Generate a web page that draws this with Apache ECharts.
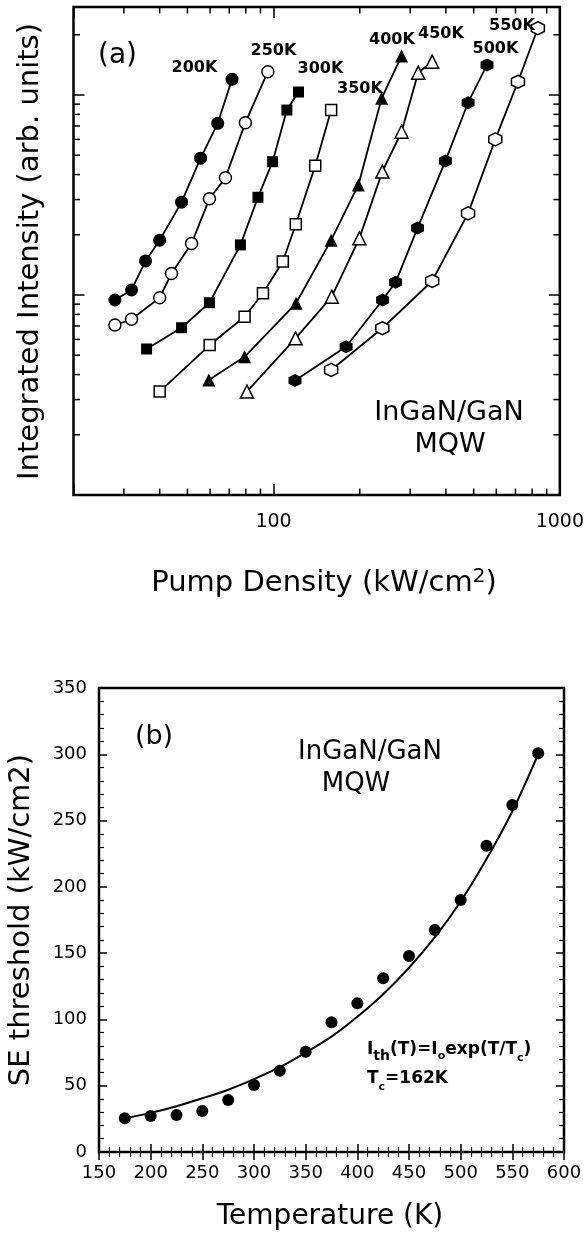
<!DOCTYPE html>
<html><head><meta charset="utf-8">
<script src="https://cdn.jsdelivr.net/npm/echarts@6/dist/echarts.min.js"></script>
<style>html,body{margin:0;padding:0;background:#fff}#c{width:587px;height:1234px}</style>
</head><body><div id="c"></div>
<script>
// ---------- Panel (a) data: pump density (kW/cm2) vs integrated intensity (arb. units) ----------
const tempLabels = ['200K','250K','300K','350K','400K','450K','500K','550K'];
const pump200 = [27.9,31.9,35.7,40.0,47.7,55.6,63.8,71.6];
const int200  = [9.44,10.6,14.8,18.8,29.1,48.3,72.2,120];
const pump250 = [27.9,31.9,40.0,44.0,51.7,59.7,67.9,79.7,95.5];
const int250  = [7.08,7.56,9.69,12.8,18.1,30.3,38.6,72.7,130.8];
const pump300 = [36.0,47.7,59.7,76.6,88.2,99.2,111.3,122.2];
const int300  = [5.37,6.86,9.15,17.8,30.8,46.4,84.1,103.5];
const pump350 = [40.0,59.8,79.2,91.8,107.7,119.6,139.8,158.9];
const int350  = [3.29,5.62,7.79,10.2,14.7,22.6,44.3,84.1];
const pump400 = [59.4,79.2,119.8,158.9,197.8,238.5,280];
const int400  = [3.76,4.91,9.09,18.8,35.5,96.3,156.7];
const pump450 = [80.7,119.3,159.7,199.4,239.8,280,320.1,358.1];
const int450  = [3.29,6.07,9.81,19.2,41.4,65.5,129.3,146.7];
const pump500 = [118.8,179.2,240.4,266.8,318.3,398.4,478,556.7];
const int500  = [3.74,5.51,9.44,11.57,21.6,46.8,91.5,141.3];
const pump550 = [158.9,239.8,358.1,478,595,714,838];
const int550  = [4.22,6.82,11.75,25.6,60.0,116.5,215.6];
const xTickLabelsA = [100, 1000];
const xMinorTicksA = [30,40,50,60,70,80,90,200,300,400,500,600,700,800,900];
const yMinorTicksA = [2,3,4,5,6,7,8,9,20,30,40,50,60,70,80,90,200];

// ---------- Panel (b) data: SE threshold vs temperature ----------
const tempK      = [175,200,225,250,275,300,325,350,375,400,425,450,475,500,525,550,575];
const threshold  = [25.4,27.2,27.9,30.9,39.2,50.5,61.3,75.6,97.8,112.2,131.0,147.8,167.5,190.1,231.0,261.8,300.7];
const fitT       = [175,200,225,250,275,300,325,350,375,400,425,450,475,500,525,550,575];
const fitV       = [25.5,29.5,34.5,40.5,47,55,64,75,87,102,119,139,162,189,221,257,300];

const FF = 'DejaVu Sans';
const BLACK = '#000';

const filledSym = {color: BLACK, opacity: 1};
const openSym = {color: '#fff', borderColor: BLACK, borderWidth: 1.5, opacity: 1};
const hexPath = 'path://M0,-1 L0.866,-0.5 L0.866,0.5 L0,1 L-0.866,0.5 L-0.866,-0.5 Z';
const seriesDefs = [
  [pump200, int200, 'circle', 13, filledSym],
  [pump250, int250, 'circle', 12, openSym],
  [pump300, int300, 'rect', 11, filledSym],
  [pump350, int350, 'rect', 11, openSym],
  [pump400, int400, 'triangle', 13, filledSym],
  [pump450, int450, 'triangle', 13, openSym],
  [pump500, int500, hexPath, 13, filledSym],
  [pump550, int550, hexPath, 13, openSym]
];

const seriesA = seriesDefs.map((d, i) => ({
  name: tempLabels[i], type: 'line', xAxisIndex: 0, yAxisIndex: 0,
  data: d[0].map((x, j) => [x, d[1][j]]),
  symbol: d[2], symbolSize: d[3], showAllSymbol: true,
  itemStyle: d[4],
  lineStyle: {color: BLACK, width: 1.8},
  z: 3, silent: true
}));

function minorX(len) {
  return function (params, api) {
    const cs = params.coordSys;
    const p = api.coord([api.value(0), api.value(1)]);
    const st = {stroke: BLACK, lineWidth: 1.5};
    return {type: 'group', children: [
      {type: 'line', shape: {x1: p[0], y1: cs.y + cs.height, x2: p[0], y2: cs.y + cs.height - len}, style: st},
      {type: 'line', shape: {x1: p[0], y1: cs.y, x2: p[0], y2: cs.y + len}, style: st}
    ]};
  };
}
function minorY(len) {
  return function (params, api) {
    const cs = params.coordSys;
    const p = api.coord([api.value(0), api.value(1)]);
    const st = {stroke: BLACK, lineWidth: 1.5};
    return {type: 'group', children: [
      {type: 'line', shape: {x1: cs.x, y1: p[1], x2: cs.x + len, y2: p[1]}, style: st},
      {type: 'line', shape: {x1: cs.x + cs.width, y1: p[1], x2: cs.x + cs.width - len, y2: p[1]}, style: st}
    ]};
  };
}

const logAxisCommon = {
  type: 'log', logBase: 10, splitLine: {show: false}, axisLine: {show: false},
  axisTick: {show: true, inside: true, length: 11, lineStyle: {color: BLACK, width: 1.5}},
  minorTick: {show: false}
};
const valAxisCommon = {
  type: 'value', splitLine: {show: false}, axisLine: {show: false},
  axisTick: {show: true, inside: true, length: 8, lineStyle: {color: BLACK, width: 1.5}},
  minorTick: {show: true, splitNumber: 5, length: 5, lineStyle: {color: BLACK, width: 1.2}}
};

function txt(text, x, y, size, opts) {
  opts = opts || {};
  return {
    type: 'text', x: x, y: y, rotation: opts.rotation || 0, z: 10, silent: true,
    style: {
      text: text, fill: BLACK, fontFamily: FF, fontSize: size,
      fontWeight: opts.bold ? 'bold' : 'normal',
      align: opts.align || 'center', textAlign: opts.align || 'center',
      verticalAlign: 'middle', textVerticalAlign: 'middle'
    }
  };
}

// text made of pieces with sub/superscripts: [text, fontSize, baselineShift, bold]
const measureCtx = document.createElement('canvas').getContext('2d');
function pieceTexts(pieces, x0, baseline, align) {
  const widths = pieces.map(p => {
    measureCtx.font = (p[3] ? 'bold ' : '') + p[1] + 'px "' + FF + '"';
    return measureCtx.measureText(p[0]).width;
  });
  const total = widths.reduce((a, b) => a + b, 0);
  let x = align === 'center' ? x0 - total / 2 : x0;
  return pieces.map((p, i) => {
    const el = txt(p[0], x, baseline + p[2] - 0.346 * p[1], p[1], {bold: p[3], align: 'left'});
    x += widths[i];
    return el;
  });
}

const labelPos = [[194.5,67.5],[273.5,51],[320.5,68.5],[360,88.5],[392,40],[441,33.5],[495.5,49],[512,26]];
let graphics = [];
tempLabels.forEach((t, i) => graphics.push(txt(t, labelPos[i][0], labelPos[i][1], 16, {bold: true})));
graphics.push(txt('(a)', 117.5, 55.5, 28));
graphics.push(txt('InGaN/GaN', 449, 412.5, 27));
graphics.push(txt('MQW', 450, 445, 27));
graphics.push(txt('(b)', 154, 736.5, 27));
graphics.push(txt('InGaN/GaN', 370, 752.5, 26));
graphics.push(txt('MQW', 356, 784, 26));
// fit formula
graphics = graphics.concat(pieceTexts([
  ['I', 17, 0, true], ['th', 14, 6, true], ['(T)=I', 17, 0, true], ['o', 11, 4.5, true],
  ['exp(T/T', 17, 0, true], ['c', 11, 6, true], [')', 17, 0, true]
], 367, 1055.5, 'left'));
graphics = graphics.concat(pieceTexts([
  ['T', 17, 0, true], ['c', 11, 6.5, true], ['=162K', 17, 0, true]
], 367, 1084.5, 'left'));
// axis titles
graphics = graphics.concat(pieceTexts([
  ['Pump Density (kW/cm', 29, 0, false], ['2', 20, -10, false], [')', 29, 0, false]
], 324, 594, 'center'));
graphics.push(txt('Integrated Intensity (arb. units)', 30.5, 251.5, 29, {rotation: Math.PI / 2}));
graphics.push(txt('Temperature (K)', 330, 1216.7, 28));
graphics.push(txt('SE threshold (kW/cm2)', 21, 920, 29, {rotation: Math.PI / 2}));

const chart = echarts.init(document.getElementById('c'), null, {renderer: 'canvas', width: 587, height: 1234});
chart.setOption({
  animation: false,
  backgroundColor: '#fff',
  grid: [
    {left: 73.5, top: 7, width: 488, height: 488, show: true, borderColor: BLACK, borderWidth: 2.5, backgroundColor: 'transparent'},
    {left: 99, top: 688, width: 465, height: 464, show: true, borderColor: BLACK, borderWidth: 2.5, backgroundColor: 'transparent'}
  ],
  xAxis: [
    Object.assign({}, logAxisCommon, {gridIndex: 0, position: 'bottom', min: 20, max: 1000,
      axisLabel: {show: true, color: BLACK, fontFamily: FF, fontSize: 19, margin: 18,
        formatter: v => xTickLabelsA.indexOf(Math.round(v)) >= 0 ? String(Math.round(v)) : ''}}),
    Object.assign({}, logAxisCommon, {gridIndex: 0, position: 'top', min: 20, max: 1000, axisLabel: {show: false}}),
    Object.assign({}, valAxisCommon, {gridIndex: 1, position: 'bottom', min: 150, max: 600, interval: 50,
      axisLabel: {show: true, color: BLACK, fontFamily: FF, fontSize: 18, margin: 12}}),
    Object.assign({}, valAxisCommon, {gridIndex: 1, position: 'top', min: 150, max: 600, interval: 50, axisLabel: {show: false}})
  ],
  yAxis: [
    Object.assign({}, logAxisCommon, {gridIndex: 0, position: 'left', min: 1, max: 275.4, axisLabel: {show: false}}),
    Object.assign({}, logAxisCommon, {gridIndex: 0, position: 'right', min: 1, max: 275.4, axisLabel: {show: false}}),
    Object.assign({}, valAxisCommon, {gridIndex: 1, position: 'left', min: 0, max: 350, interval: 50,
      axisLabel: {show: true, color: BLACK, fontFamily: FF, fontSize: 18, margin: 12}}),
    Object.assign({}, valAxisCommon, {gridIndex: 1, position: 'right', min: 0, max: 350, interval: 50, axisLabel: {show: false}})
  ],
  series: seriesA.concat([
    {type: 'custom', xAxisIndex: 0, yAxisIndex: 0, silent: true, clip: false, z: 1,
      data: xMinorTicksA.map(v => [v, 1]), renderItem: minorX(6.5)},
    {type: 'custom', xAxisIndex: 0, yAxisIndex: 0, silent: true, clip: false, z: 1,
      data: yMinorTicksA.map(v => [20, v]), renderItem: minorY(6.5)},
    {type: 'line', xAxisIndex: 2, yAxisIndex: 2, data: fitT.map((t, i) => [t, fitV[i]]),
      smooth: 0.3, showSymbol: false, symbol: 'none', lineStyle: {color: BLACK, width: 2}, silent: true, z: 2},
    {type: 'scatter', xAxisIndex: 2, yAxisIndex: 2, data: tempK.map((t, i) => [t, threshold[i]]),
      symbol: 'circle', symbolSize: 12, itemStyle: {color: BLACK, opacity: 1}, silent: true, z: 3}
  ]),
  graphic: graphics
});
</script>
</body></html>
